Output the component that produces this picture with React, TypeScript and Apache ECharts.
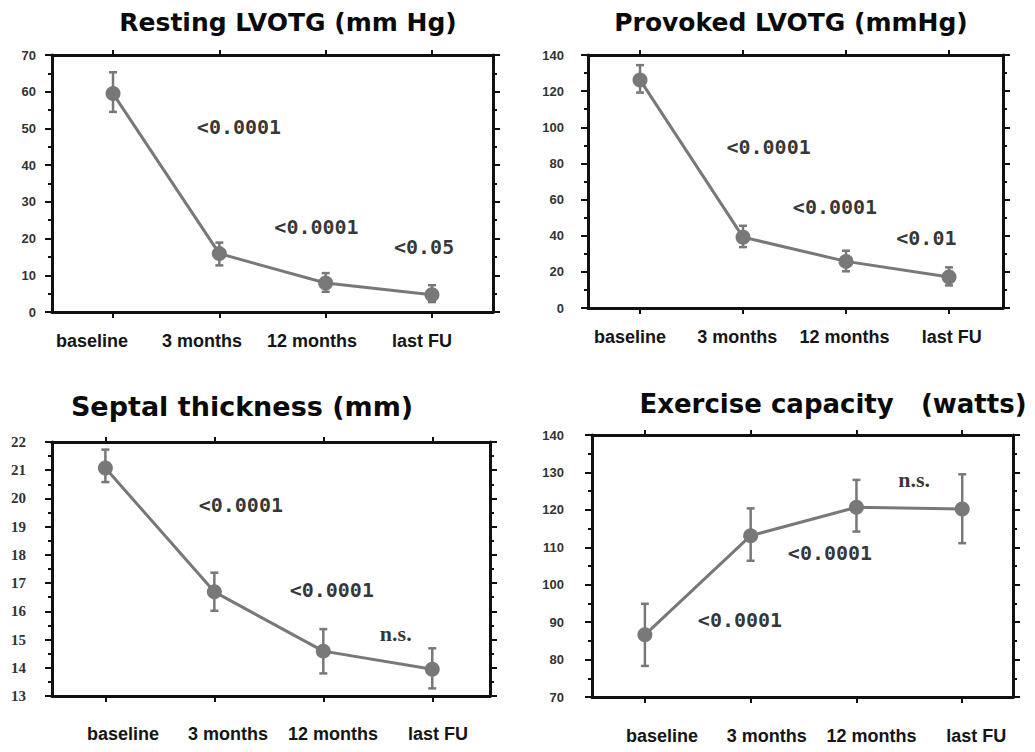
import React, { useEffect, useRef } from 'react';
import * as echarts from 'echarts';

// ---------- data ----------
const categories = ['baseline', '3 months', '12 months', 'last FU'];

const restingMean = [59.5, 15.9, 7.9, 4.7];
const restingLow = [54.5, 12.7, 5.5, 2.7];
const restingHigh = [65.3, 18.9, 10.6, 7.3];
const restingP = ['<0.0001', '<0.0001', '<0.05'];

const provokedMean = [126.2, 39.2, 25.8, 17.1];
const provokedLow = [119.2, 33.7, 20.3, 12.5];
const provokedHigh = [134.4, 45.5, 31.7, 22.5];
const provokedP = ['<0.0001', '<0.0001', '<0.01'];

const septalMean = [21.08, 16.69, 14.59, 13.95];
const septalLow = [20.58, 16.02, 13.8, 13.27];
const septalHigh = [21.73, 17.37, 15.37, 14.69];
const septalP = ['<0.0001', '<0.0001', 'n.s.'];

const exerciseMean = [86.6, 113.1, 120.7, 120.25];
const exerciseLow = [78.3, 106.4, 114.2, 111.1];
const exerciseHigh = [94.9, 120.4, 128.0, 129.5];
const exerciseP = ['<0.0001', '<0.0001', 'n.s.'];

const titles = [
  'Resting LVOTG (mm Hg)',
  'Provoked LVOTG (mmHg)',
  'Septal thickness (mm)',
  'Exercise capacity   (watts)',
];

// ---------- layout ----------
const GRAY = '#787878';
const BLACK = '#111';

const panels = [
  {
    title: titles[0], mean: restingMean, low: restingLow, high: restingHigh, pv: restingP,
    pvPos: [[1.185, 50.4], [1.914, 23.2], [2.926, 17.7]],
    yMin: 0, yMax: 70, yInt: 10,
    grid: { left: 52, top: 55, width: 441, height: 257 },
    xRange: [-0.574, 3.574], labelRange: [-0.364, 3.645], labelMargin: 20,
    yLabelMargin: 16, yFont: 'Liberation Sans', ySize: 13,
    titleX: 288, titleY: 7, titleSize: 25,
  },
  {
    title: titles[1], mean: provokedMean, low: provokedLow, high: provokedHigh, pv: provokedP,
    pvPos: [[1.248, 89.1], [1.893, 55.9], [2.78, 38.7]],
    yMin: 0, yMax: 140, yInt: 20,
    grid: { left: 588, top: 55, width: 415, height: 253 },
    xRange: [-0.505, 3.524], labelRange: [-0.391, 3.477], labelMargin: 20,
    yLabelMargin: 24, yFont: 'Liberation Sans', ySize: 13,
    titleX: 791, titleY: 7, titleSize: 25,
  },
  {
    title: titles[2], mean: septalMean, low: septalLow, high: septalHigh, pv: septalP,
    pvPos: [[1.243, 19.77], [2.078, 16.76], [2.665, 15.23]],
    yMin: 13, yMax: 22, yInt: 1,
    grid: { left: 52, top: 442, width: 438, height: 254 },
    xRange: [-0.49, 3.53], labelRange: [-0.676, 3.495], labelMargin: 29,
    yLabelMargin: 26, yFont: 'Liberation Serif', ySize: 15,
    titleX: 242, titleY: 390, titleSize: 27,
  },
  {
    title: titles[3], mean: exerciseMean, low: exerciseLow, high: exerciseHigh, pv: exerciseP,
    pvPos: [[0.899, 90.6], [1.75, 108.5], [2.545, 128]],
    yMin: 70, yMax: 140, yInt: 10,
    grid: { left: 592, top: 435, width: 421, height: 262 },
    xRange: [-0.5, 3.48], labelRange: [-0.669, 3.352], labelMargin: 30,
    yLabelMargin: 28, yFont: 'Liberation Sans', ySize: 13,
    titleX: 833, titleY: 388, titleSize: 26,
  },
];

const tickIdx = categories.map((_, i) => i);

function buildOption() {
  const grids: any[] = [];
  const xAxes: any[] = [];
  const yAxes: any[] = [];
  const series: any[] = [];
  const title: any[] = [];

  panels.forEach((p, i) => {
    grids.push({ ...p.grid, containLabel: false, outerBoundsMode: 'none', show: false });
    title.push({
      text: p.title,
      left: p.titleX,
      top: p.titleY,
      textAlign: 'center',
      padding: 0,
      textStyle: {
        fontFamily: 'DejaVu Sans',
        fontWeight: 'bold',
        fontSize: p.titleSize,
        color: '#0a0a0a',
        lineHeight: Math.round(p.titleSize * 1.2),
      },
    });
    const axisLine = { show: true, onZero: false, lineStyle: { color: BLACK, width: 3 } };
    xAxes.push({
      type: 'value', gridIndex: i, position: 'bottom', min: p.xRange[0], max: p.xRange[1],
      axisLine,
      axisTick: { show: true, customValues: tickIdx, length: 6, lineStyle: { color: BLACK, width: 2 } },
      axisLabel: { show: false }, splitLine: { show: false },
    });
    xAxes.push({
      type: 'value', gridIndex: i, position: 'top', min: p.xRange[0], max: p.xRange[1],
      axisLine,
      axisTick: { show: true, customValues: tickIdx, length: 5, lineStyle: { color: BLACK, width: 2 } },
      axisLabel: { show: false }, splitLine: { show: false },
    });
    xAxes.push({
      type: 'value', gridIndex: i, position: 'bottom', min: p.labelRange[0], max: p.labelRange[1],
      axisLine: { show: false }, axisTick: { show: false }, splitLine: { show: false },
      axisLabel: {
        show: true, customValues: tickIdx, margin: p.labelMargin,
        formatter: (v: number) => categories[Math.round(v)] ?? '',
        fontFamily: 'Liberation Sans', fontWeight: 'bold', fontSize: 18, color: '#151515',
      },
    });
    const yCommon = {
      type: 'value', gridIndex: i, min: p.yMin, max: p.yMax, interval: p.yInt,
      axisLine,
      axisTick: { show: true, length: 7, lineStyle: { color: BLACK, width: 2 } },
      minorTick: { show: true, splitNumber: 2, length: 4, lineStyle: { color: BLACK, width: 2 } },
      splitLine: { show: false }, minorSplitLine: { show: false },
    };
    yAxes.push({
      ...yCommon, position: 'left',
      axisLabel: {
        show: true, margin: p.yLabelMargin, fontFamily: p.yFont, fontWeight: 'bold',
        fontSize: p.ySize, color: '#333',
      },
    });
    yAxes.push({ ...yCommon, position: 'right', axisLabel: { show: false } });

    const xi = i * 3;
    const yi = i * 2;
    series.push({
      type: 'custom', xAxisIndex: xi, yAxisIndex: yi, z: 2, silent: true,
      data: p.mean.map((_, k) => [k, p.low[k], p.high[k]]),
      encode: { x: 0, y: [1, 2] },
      renderItem: (_params: any, api: any) => {
        const x = api.value(0);
        const lo = api.coord([x, api.value(1)]);
        const hi = api.coord([x, api.value(2)]);
        const h = 4;
        const style = { stroke: GRAY, lineWidth: 2.5 };
        return {
          type: 'group',
          children: [
            { type: 'line', shape: { x1: lo[0], y1: lo[1], x2: hi[0], y2: hi[1] }, style },
            { type: 'line', shape: { x1: lo[0] - h, y1: lo[1], x2: lo[0] + h, y2: lo[1] }, style },
            { type: 'line', shape: { x1: hi[0] - h, y1: hi[1], x2: hi[0] + h, y2: hi[1] }, style },
          ],
        };
      },
    });
    series.push({
      type: 'line', xAxisIndex: xi, yAxisIndex: yi, z: 3, silent: true,
      data: p.mean.map((v, k) => [k, v]),
      symbol: 'circle', symbolSize: 15,
      lineStyle: { color: GRAY, width: 3 },
      itemStyle: { color: GRAY },
    });
    series.push({
      type: 'scatter', xAxisIndex: xi, yAxisIndex: yi, z: 4, silent: true,
      symbolSize: 1, itemStyle: { color: 'rgba(0,0,0,0)' },
      data: p.pv.map((t, k) => ({
        name: t,
        value: p.pvPos[k],
        label: t === 'n.s.'
          ? { fontFamily: 'Liberation Serif', fontWeight: 'bold', fontSize: 22, color: '#000' }
          : { fontFamily: 'DejaVu Sans Mono', fontWeight: 'bold', fontSize: 20, color: '#000' },
      })),
      label: {
        show: true, position: 'inside', formatter: '{b}', color: '#000',
        textBorderWidth: 0,
      },
      labelLayout: { hideOverlap: false },
    });
  });

  return {
    animation: false,
    backgroundColor: '#ffffff',
    title,
    grid: grids,
    xAxis: xAxes,
    yAxis: yAxes,
    series,
  };
}

export default function App() {
  const ref = useRef<HTMLDivElement>(null);
  useEffect(() => {
    if (!ref.current) return;
    const chart = echarts.init(ref.current, undefined, { renderer: 'svg' });
    chart.setOption(buildOption() as any);
    return () => chart.dispose();
  }, []);
  return (
    <div
      ref={ref}
      style={{ position: 'fixed', left: 0, top: 0, width: 1035, height: 752, background: '#fff' }}
    />
  );
}
